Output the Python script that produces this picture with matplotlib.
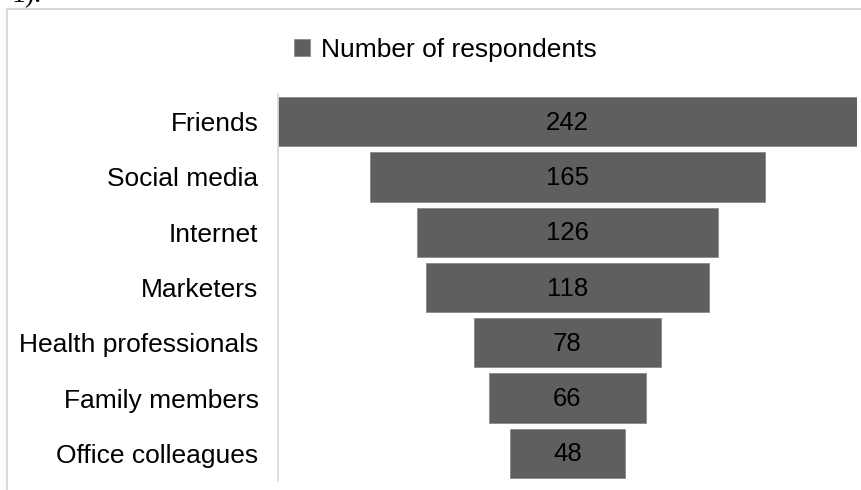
import matplotlib.pyplot as plt
from matplotlib.patches import Rectangle

plt.rcParams['font.family'] = ['Liberation Sans', 'DejaVu Sans']

categories = ['Friends', 'Social media', 'Internet', 'Marketers',
              'Health professionals', 'Family members', 'Office colleagues']
respondents = [242, 165, 126, 118, 78, 66, 48]
series_name = 'Number of respondents'

W, H = 862, 490
fig = plt.figure(figsize=(W / 100, H / 100), dpi=100)

# light frame around the chart area (cut off on the right and bottom)
fig.patches.append(Rectangle((7 / W, -0.1), 1.2, 1 - 9 / H + 0.1,
                             transform=fig.transFigure, fill=False,
                             edgecolor='#d9d9d9', linewidth=1.5))
# clipped caption text from the surrounding document
fig.text(12 / W, 1 + 4 / H, '1).', fontsize=20, family='Liberation Serif',
         va='center', ha='left')

ax = fig.add_axes([278 / W, 1 - 481 / H, 579 / W, 387 / H])

top = max(respondents)
ypos = list(range(len(categories)))
offsets = [(top - v) / 2 for v in respondents]
ax.barh(ypos, respondents, left=offsets, height=0.89, color='#5f5f5f',
        edgecolor='#8a8a8a', linewidth=0.6, label=series_name)
for y, v, o in zip(ypos, respondents, offsets):
    ax.text(o + v / 2, y + 0.02, str(v), ha='center', va='center',
            fontsize=18.5, color='black')

ax.set_xlim(0, top)
ax.set_ylim(len(categories) - 0.5, -0.5)
ax.set_yticks(ypos)
ax.set_yticklabels(categories, fontsize=19)
ax.tick_params(axis='y', length=0, pad=14)
ax.set_xticks([])
for s in ['top', 'right', 'bottom']:
    ax.spines[s].set_visible(False)
ax.spines['left'].set_color('#d9d9d9')
ax.spines['left'].set_linewidth(1.2)

ax.legend(loc='center left', bbox_to_anchor=(270 / W, 1 - 50 / H),
          bbox_transform=fig.transFigure, frameon=False, fontsize=19,
          handlelength=0.6, handleheight=0.6, handletextpad=0.45)

fig.savefig('out.png', dpi=100)
